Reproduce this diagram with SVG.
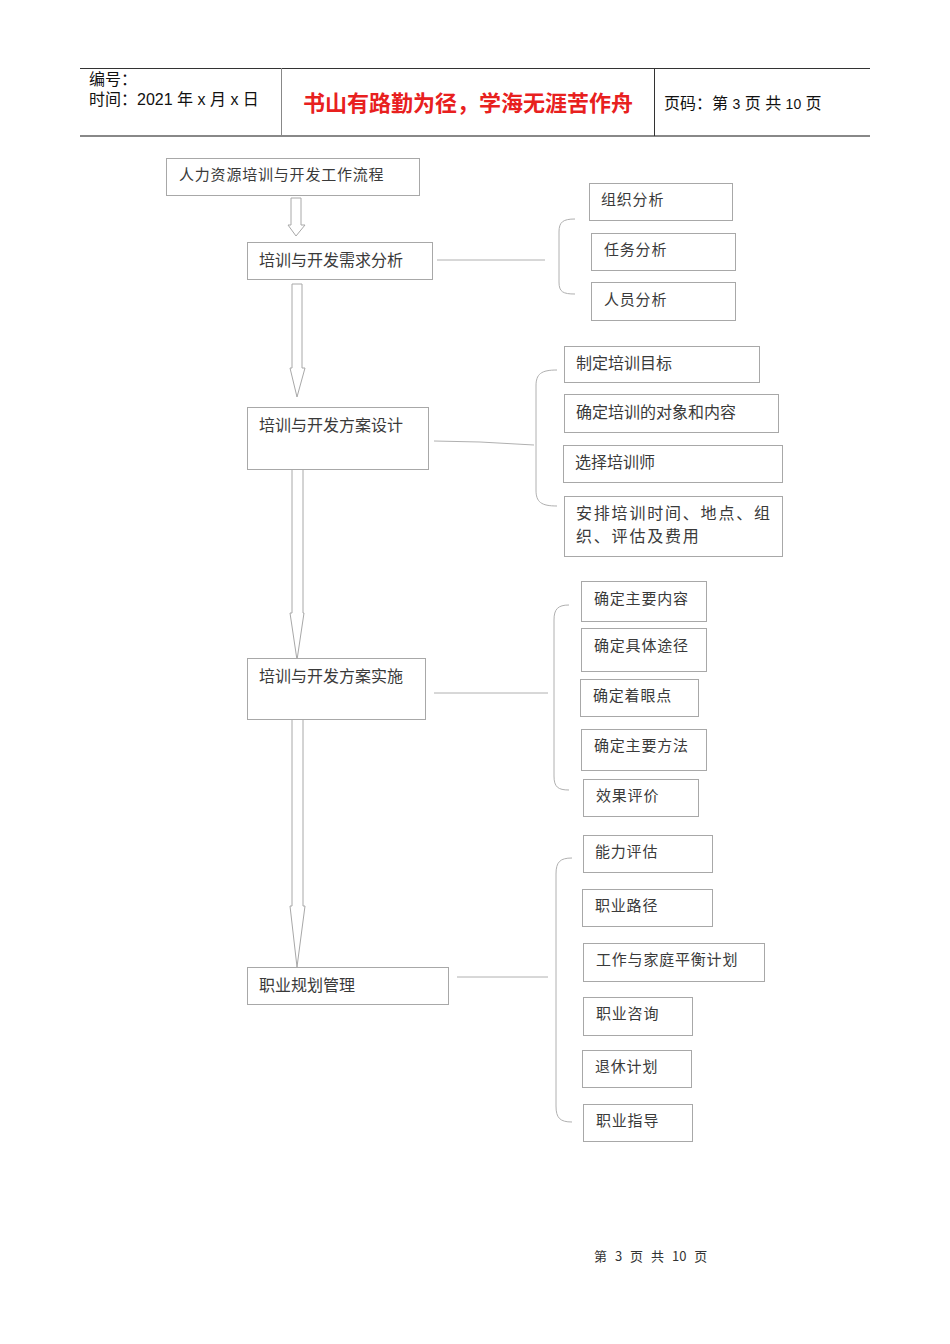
<svg xmlns="http://www.w3.org/2000/svg" width="950" height="1344" viewBox="0 0 950 1344">
<style>
.bx{fill:#fff;stroke:#a8a8a8;stroke-width:1}
.t{font-family:"Noto Sans CJK SC","Liberation Sans",sans-serif;font-size:15px;letter-spacing:0.8px;fill:#3a3a3a}
.tm{font-family:"Noto Sans CJK SC","Liberation Sans",sans-serif;font-size:16px;fill:#3a3a3a}
.ln{fill:none;stroke:#b0b0b0;stroke-width:1}
.ar{fill:#fff;stroke:#a8a8a8;stroke-width:1}
.h{font-family:"Liberation Sans","Noto Sans CJK SC",sans-serif;font-size:16px;fill:#111}
</style>
<rect width="950" height="1344" fill="#fff"/>
<g id="header">
<line x1="80" y1="68.5" x2="870" y2="68.5" stroke="#333" stroke-width="1"/>
<line x1="80" y1="136" x2="870" y2="136" stroke="#888" stroke-width="2"/>
<line x1="281.5" y1="68" x2="281.5" y2="136" stroke="#888" stroke-width="1"/>
<line x1="654.5" y1="68" x2="654.5" y2="136" stroke="#333" stroke-width="1"/>
<text class="h" x="89" y="85">编号：</text>
<text class="h" x="89" y="105">时间：2021 年 x 月 x 日</text>
<text x="468" y="111" text-anchor="middle" font-family="Noto Sans CJK SC,sans-serif" font-size="22" font-weight="bold" fill="#e8201e">书山有路勤为径，学海无涯苦作舟</text>
<text class="h" x="664" y="109">页码：第 <tspan font-size="14">3</tspan> 页  共 <tspan font-size="14">10</tspan> 页</text>
</g>
<g id="connectors">
<path class="ar" d="M291,198 H301 V225 H305 L296,236 L288,225 H291 Z"/>
<path class="ar" d="M292,284 H302 V368 H305 L297,397 L290,368 H292 Z"/>
<path class="ar" d="M292,469 H303 V613 H304 L297,660 L290,613 H292 Z"/>
<path class="ar" d="M292,719 H303 V906 H305 L297,967 L290,906 H292 Z"/>
<line class="ln" x1="437" y1="260" x2="545" y2="260"/>
<path class="ln" d="M434,441 L480,442 L534,445"/>
<line class="ln" x1="434" y1="693" x2="548" y2="693"/>
<line class="ln" x1="457" y1="977" x2="548" y2="977"/>
<path class="ln" d="M575,219 C563,219 559,222 559,232 L559,282 C559,292 563,294 575,294"/>
<path class="ln" d="M557,370 C541,370 536,374 536,386 L536,490 C536,502 541,506 557,506"/>
<path class="ln" d="M569,605 C558,605 554,609 554,620 L554,776 C554,787 558,790 569,790"/>
<path class="ln" d="M572,858 C560,858 556,862 556,874 L556,1106 C556,1118 560,1122 572,1122"/>
</g>
<g id="n0"><rect class="bx" x="166.5" y="158.5" width="253" height="37"/><text class="t" x="179" y="180">人力资源培训与开发工作流程</text></g>
<g id="n1"><rect class="bx" x="247.5" y="242.5" width="185" height="37"/><text class="tm" x="259" y="266">培训与开发需求分析</text></g>
<g id="n2"><rect class="bx" x="247.5" y="407.5" width="181" height="62"/><text class="tm" x="259" y="431">培训与开发方案设计</text></g>
<g id="n3"><rect class="bx" x="247.5" y="658.5" width="178" height="61"/><text class="tm" x="259" y="682">培训与开发方案实施</text></g>
<g id="n4"><rect class="bx" x="247.5" y="967.5" width="201" height="37"/><text class="tm" x="259" y="991">职业规划管理</text></g>
<g id="a1"><rect class="bx" x="589.5" y="183.5" width="143" height="37"/><text class="t" x="601" y="205">组织分析</text></g>
<g id="a2"><rect class="bx" x="591.5" y="233.5" width="144" height="37"/><text class="t" x="604" y="255">任务分析</text></g>
<g id="a3"><rect class="bx" x="591.5" y="282.5" width="144" height="38"/><text class="t" x="604" y="305">人员分析</text></g>
<g id="b1"><rect class="bx" x="564.5" y="346.5" width="195" height="36"/><text class="tm" x="576" y="369">制定培训目标</text></g>
<g id="b2"><rect class="bx" x="564.5" y="394.5" width="214" height="38"/><text class="tm" x="576" y="418">确定培训的对象和内容</text></g>
<g id="b3"><rect class="bx" x="563.5" y="445.5" width="219" height="37"/><text class="tm" x="575" y="468">选择培训师</text></g>
<g id="b4"><rect class="bx" x="564.5" y="496.5" width="218" height="60"/><text class="tm" x="576" y="519" letter-spacing="1.8">安排培训时间、地点、组</text><text class="tm" x="576" y="542" letter-spacing="1.8">织、评估及费用</text></g>
<g id="c1"><rect class="bx" x="581.5" y="581.5" width="125" height="40"/><text class="t" x="594" y="604">确定主要内容</text></g>
<g id="c2"><rect class="bx" x="581.5" y="628.5" width="125" height="43"/><text class="t" x="594" y="651">确定具体途径</text></g>
<g id="c3"><rect class="bx" x="580.5" y="679.5" width="118" height="37"/><text class="t" x="593" y="701">确定着眼点</text></g>
<g id="c4"><rect class="bx" x="581.5" y="729.5" width="125" height="41"/><text class="t" x="594" y="751">确定主要方法</text></g>
<g id="c5"><rect class="bx" x="583.5" y="779.5" width="115" height="37"/><text class="t" x="596" y="801">效果评价</text></g>
<g id="d1"><rect class="bx" x="583.5" y="835.5" width="129" height="37"/><text class="t" x="595" y="857">能力评估</text></g>
<g id="d2"><rect class="bx" x="582.5" y="889.5" width="130" height="37"/><text class="t" x="595" y="911">职业路径</text></g>
<g id="d3"><rect class="bx" x="583.5" y="943.5" width="181" height="38"/><text class="t" x="596" y="965">工作与家庭平衡计划</text></g>
<g id="d4"><rect class="bx" x="583.5" y="997.5" width="109" height="38"/><text class="t" x="596" y="1019">职业咨询</text></g>
<g id="d5"><rect class="bx" x="582.5" y="1050.5" width="109" height="37"/><text class="t" x="595" y="1072">退休计划</text></g>
<g id="d6"><rect class="bx" x="583.5" y="1104.5" width="109" height="37"/><text class="t" x="596" y="1126">职业指导</text></g>
<g id="footer"><text x="594" y="1261" font-family="Noto Sans CJK SC,sans-serif" font-size="13" fill="#333">第 <tspan dx="5">3</tspan> <tspan dx="5">页</tspan> <tspan dx="5">共</tspan> <tspan dx="5">10</tspan> <tspan dx="5">页</tspan></text></g>
</svg>
